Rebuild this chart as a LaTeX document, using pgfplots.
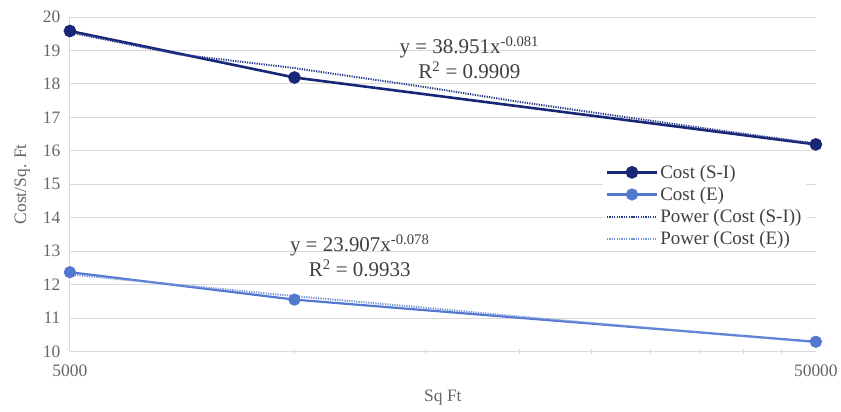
\documentclass[border=0pt]{standalone}
\usepackage{fontspec}
\setmainfont{Liberation Serif}
\usepackage{pgfplots}
\pgfplotsset{compat=1.18}

\definecolor{csi}{RGB}{24,38,118}
\definecolor{ce}{RGB}{82,120,208}
\definecolor{txt}{RGB}{64,64,64}
\definecolor{gridc}{RGB}{217,217,217}

\begin{document}
\begin{tikzpicture}
\begin{axis}[
  scale only axis,
  width=747pt, height=335pt,
  clip=false,
  xmode=log,
  xmin=5000, xmax=50000,
  ymin=10, ymax=20,
  xtick={5000,50000},
  xticklabels={5000,50000},
  minor xtick={10000,15000,20000,25000,30000,35000,40000,45000},
  ytick={10,11,...,20},
  axis lines=left,
  axis line style={-, gridc, line width=1pt},
  ymajorgrids,
  grid style={gridc, line width=0.8pt},
  major tick length=0pt,
  minor tick length=5pt,
  tick align=center,
  minor tick style={gridc, line width=1pt},
  /pgf/number format/assume math mode=true,
  tick label style={font=\fontsize{17.5}{20}\selectfont, text=txt!80},
  yticklabel style={xshift=-6pt},
  xticklabel style={yshift=-10pt},
  xlabel={Sq Ft},
  ylabel={Cost/Sq. Ft},
  label style={font=\fontsize{17.5}{20}\selectfont, text=txt!80},
  xlabel style={at={(axis description cs:0.5,-0.137)}, anchor=center},
  ylabel style={at={(axis description cs:-0.064,0.5)}, anchor=center},
  legend style={at={(0.714,0.57)}, anchor=north west, draw=none, fill=white,
    font=\fontsize{19}{22}\selectfont, text=txt, row sep=3.5pt},
  legend cell align=left,
  legend image code/.code={\draw[mark repeat=2,mark phase=2,#1] plot coordinates {(0pt,0pt) (25pt,0pt) (50pt,0pt)};},
]

% Cost (S-I)
\addplot[csi, line width=2.6pt, mark=*, mark size=5pt] coordinates {
  (5000,19.58) (10000,18.19) (50000,16.19)
};
\addlegendentry{Cost (S-I)}

% Cost (E)
\addplot[ce, line width=2.2pt, mark=*, mark size=5pt] coordinates {
  (5000,12.37) (10000,11.55) (50000,10.29)
};
\addlegendentry{Cost (E)}

% Power trend (S-I): y = 38.951 x^-0.081
\addplot[csi!75!ce, line width=2pt, dash pattern=on 1.2pt off 1.2pt] coordinates {
  (5000,19.539) (7000,18.881) (10000,18.472) (15000,17.900) (20000,17.463)
  (30000,16.899) (40000,16.507) (50000,16.214)
};
\addlegendentry{Power (Cost (S-I))}

% Power trend (E): y = 23.907 x^-0.078
\addplot[ce!80, line width=2pt, dash pattern=on 1.2pt off 1.2pt] coordinates {
  (5000,12.303) (7000,11.989) (10000,11.655) (15000,11.306) (20000,11.042)
  (30000,10.698) (40000,10.458) (50000,10.280)
};
\addlegendentry{Power (Cost (E))}

\node[font=\fontsize{21}{24}\selectfont, text=txt, align=center] at (axis cs:17160,18.78)
  {y = 38.951x\textsuperscript{-0.081}\\[1pt] R\textsuperscript{2} = 0.9909};
\node[font=\fontsize{21}{24}\selectfont, text=txt, align=center] at (axis cs:12230,12.86)
  {y = 23.907x\textsuperscript{-0.078}\\[1pt] R\textsuperscript{2} = 0.9933};

% page frame matching reference margins
\path (rel axis cs:-0.0937,-0.1791) rectangle (rel axis cs:1.0321,1.0507);
\end{axis}
\end{tikzpicture}
\end{document}
